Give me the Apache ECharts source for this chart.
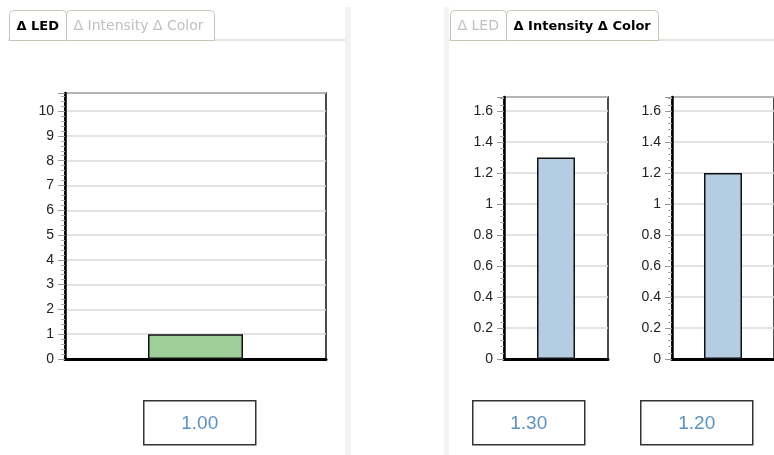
<!DOCTYPE html>
<html>
<head>
<meta charset="utf-8">
<script src="https://cdn.jsdelivr.net/npm/echarts@6/dist/echarts.min.js"></script>
<style>
  html, body { margin: 0; padding: 0; background: #fff; }
  #chart { width: 774px; height: 455px; }
</style>
</head>
<body>
<div id="chart"></div>
<script>
// data
const ledCategories = ['LED']
const ledValues = [1.0]
const intensityValues = [1.3]
const colorValues = [1.2]
const ledTicks = { min: 0, max: 10.73, interval: 1 }
const deltaTicks = { min: 0, max: 1.69, interval: 0.2 }
const tabLeft = ['Δ LED', 'Δ Intensity Δ Color']
const tabRight = ['Δ LED', 'Δ Intensity Δ Color']

const chart = echarts.init(document.getElementById('chart'))

const font = 'Liberation Sans'

const yAxisBase = (gridIndex, ticks) => ({
  type: 'value',
  gridIndex,
  min: ticks.min,
  max: ticks.max,
  interval: ticks.interval,
  axisLine: { show: true, onZero: false, lineStyle: { color: '#000', width: 2.5 } },
  axisTick: { show: true, length: 7, lineStyle: { color: '#999', width: 1 } },
  minorTick: { show: true, splitNumber: 5, length: 4, lineStyle: { color: '#aaa' } },
  axisLabel: { color: '#222', fontFamily: font, fontSize: 14, margin: 11, showMaxLabel: false },
  splitLine: { show: true, lineStyle: { color: '#d9d9d9', width: 1.5 } }
})

const xAxisBase = gridIndex => ({
  type: 'category',
  gridIndex,
  data: ledCategories,
  axisLine: { show: true, lineStyle: { color: '#000', width: 3 } },
  axisTick: { show: false },
  axisLabel: { show: false }
})

const barBase = (xi, data, color, width) => ({
  type: 'bar',
  xAxisIndex: xi,
  yAxisIndex: xi,
  data,
  barWidth: width,
  itemStyle: { color, borderColor: '#111', borderWidth: 1.5 },
  silent: true
})

const valueBox = (x, y, v) => ({
  type: 'group',
  left: x, top: y,
  children: [
    { type: 'rect', shape: { x: 0, y: 0, width: 112, height: 44 }, style: { fill: '#fff', stroke: '#333', lineWidth: 1.5 } },
    { type: 'text', x: 56, y: 23, style: { text: v.toFixed(2), fill: '#5b92c4', fontFamily: font, fontSize: 19, align: 'center', verticalAlign: 'middle' } }
  ]
})

const tab = (x, w, label, active) => ({
  type: 'group',
  left: x, top: 10,
  children: [
    { type: 'rect', shape: { x: 0, y: 0, width: w, height: 30, r: [4, 4, 0, 0] }, style: { fill: '#fff', stroke: '#c9c5b6', lineWidth: 1 } },
    { type: 'text', x: 7, y: 16, style: { text: label, fill: active ? '#000' : '#c0c0c0', fontFamily: 'DejaVu Sans', fontWeight: active ? 'bold' : 'normal', fontSize: active ? 13 : 14, verticalAlign: 'middle' } }
  ]
})

const option = {
  animation: false,
  grid: [
    { left: 65, top: 93, width: 261, height: 266, show: true, borderColor: '#111', borderWidth: 1.5, backgroundColor: '#fff' },
    { left: 504, top: 97, width: 104, height: 262, show: true, borderColor: '#111', borderWidth: 1.5, backgroundColor: '#fff' },
    { left: 672, top: 97, width: 104, height: 262, show: true, borderColor: '#111', borderWidth: 1.5, backgroundColor: '#fff' }
  ],
  xAxis: [xAxisBase(0), xAxisBase(1), xAxisBase(2)],
  yAxis: [yAxisBase(0, ledTicks), yAxisBase(1, deltaTicks), yAxisBase(2, deltaTicks)],
  series: [
    barBase(0, ledValues, '#9ecf98', 95),
    barBase(1, intensityValues, '#b5cde3', 38),
    barBase(2, colorValues, '#b5cde3', 38)
  ],
  graphic: [
    { type: 'rect', z: -10, left: 345, top: 7, shape: { width: 6, height: 448 }, style: { fill: '#f3f3f3' } },
    { type: 'rect', z: -10, left: 444, top: 7, shape: { width: 5, height: 448 }, style: { fill: '#f3f3f3' } },
    { type: 'line', shape: { x1: 8, y1: 40, x2: 345, y2: 40 }, style: { stroke: '#c9c5b6', lineWidth: 1 } },
    { type: 'line', shape: { x1: 449, y1: 40, x2: 774, y2: 40 }, style: { stroke: '#c9c5b6', lineWidth: 1 } },
    tab(66, 148, tabLeft[1], false),
    tab(9, 57, tabLeft[0], true),
    tab(450, 56, tabRight[0], false),
    tab(506, 152, tabRight[1], true),
    valueBox(143, 400, ledValues[0]),
    valueBox(472, 400, intensityValues[0]),
    valueBox(640, 400, colorValues[0])
  ]
}

chart.setOption(option)
</script>
</body>
</html>
